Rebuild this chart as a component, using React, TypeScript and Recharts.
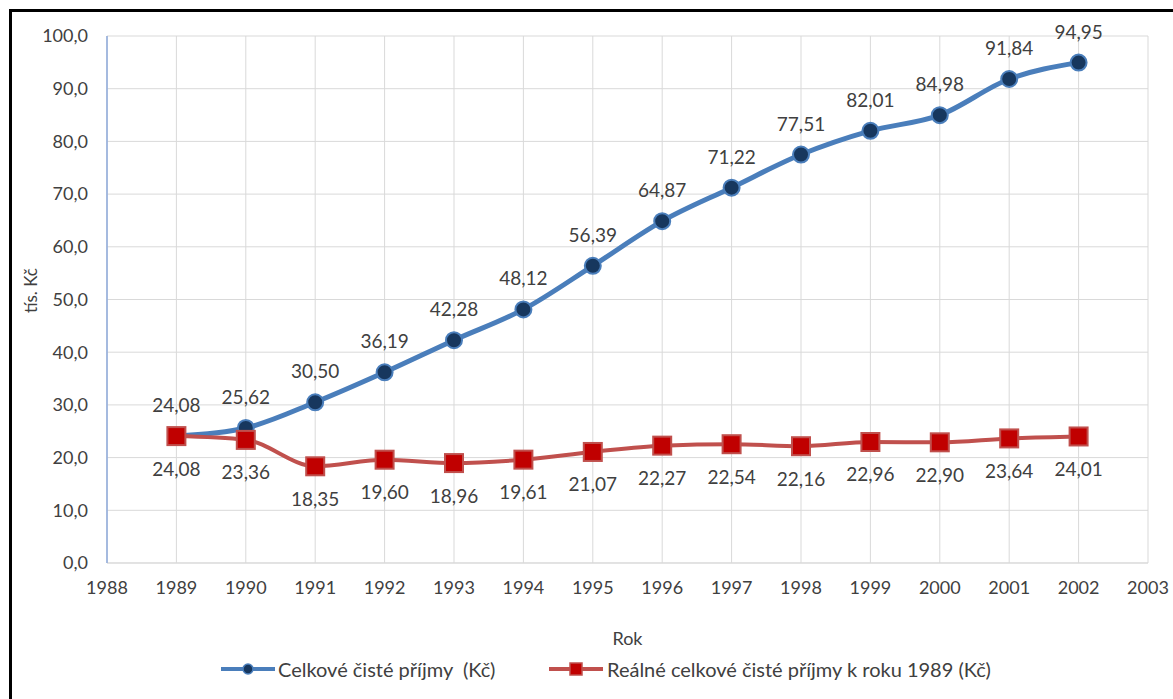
import { LineChart, Line, XAxis, YAxis, CartesianGrid, LabelList } from 'recharts';

const years = [1989, 1990, 1991, 1992, 1993, 1994, 1995, 1996, 1997, 1998, 1999, 2000, 2001, 2002];
const nominal = [24.08, 25.62, 30.5, 36.19, 42.28, 48.12, 56.39, 64.87, 71.22, 77.51, 82.01, 84.98, 91.84, 94.95];
const real = [24.08, 23.36, 18.35, 19.6, 18.96, 19.61, 21.07, 22.27, 22.54, 22.16, 22.96, 22.9, 23.64, 24.01];
const xTicks = [1988, 1989, 1990, 1991, 1992, 1993, 1994, 1995, 1996, 1997, 1998, 1999, 2000, 2001, 2002, 2003];
const yTicks = [0, 10, 20, 30, 40, 50, 60, 70, 80, 90, 100];
const nominalName = 'Celkové čisté příjmy  (Kč)';
const realName = 'Reálné celkové čisté příjmy k roku 1989 (Kč)';

const data = years.map((y, i) => ({ year: y, nominal: nominal[i], real: real[i] }));

const FONT = 'Lato, "Open Sans", sans-serif';
const TEXT = '#404040';
const BLUE = '#4a7ebb';
const NAVY = '#17375e';
const RED_LINE = '#c0504d';
const RED_FILL = '#c00000';

const comma = (v: number, d: number) => v.toFixed(d).replace('.', ',');

function SquareDot(props: any) {
  const { cx, cy } = props;
  if (cx == null || cy == null) return null;
  return <rect x={cx - 9} y={cy - 9} width={18} height={18} fill={RED_FILL} stroke={RED_LINE} strokeWidth={2} />;
}

function LegendIcon({ kind }: { kind: 'circle' | 'square' }) {
  return (
    <svg width={56} height={16} style={{ display: 'block' }}>
      <line x1={1} y1={8} x2={55} y2={8} stroke={kind === 'circle' ? BLUE : RED_LINE} strokeWidth={4} />
      {kind === 'circle'
        ? <circle cx={28} cy={8} r={5} fill={NAVY} stroke={BLUE} strokeWidth={1.5} />
        : <rect x={22} y={2} width={12} height={12} fill={RED_FILL} stroke={RED_LINE} strokeWidth={1.5} />}
    </svg>
  );
}

export default function App() {
  return (
    <div style={{ position: 'absolute', left: 0, top: 0, width: 1173, height: 699, overflow: 'hidden', background: '#fff', fontFamily: FONT }}>
      {/* frame */}
      <div style={{ position: 'absolute', left: 9, top: 9, width: 1200, height: 720, border: '3px solid #000', boxSizing: 'border-box' }} />

      <div style={{ position: 'absolute', left: 0, top: 0 }}>
        <LineChart width={1173} height={699} data={data} margin={{ top: 36, right: 25, left: 0, bottom: 46 }}>
          <CartesianGrid stroke="#d9d9d9" strokeWidth={1} />
          <XAxis
            dataKey="year"
            type="number"
            domain={[1988, 2003]}
            ticks={xTicks}
            height={90}
            axisLine={{ stroke: '#d9d9d9' }}
            tickLine={false}
            tickSize={6}
            tickMargin={12}
            tick={{ fill: TEXT, fontSize: 18, fontFamily: FONT }}
            label={{ value: 'Rok', position: 'insideBottom', offset: 8, fill: TEXT, fontSize: 18, fontFamily: FONT }}
          />
          <YAxis
            type="number"
            domain={[0, 100]}
            ticks={yTicks}
            width={107}
            axisLine={{ stroke: '#8eaadb', strokeWidth: 1.5 }}
            tickLine={false}
            tickSize={6}
            tickMargin={13}
            tickFormatter={(v: number) => comma(v, 1)}
            tick={{ fill: TEXT, fontSize: 18, fontFamily: FONT }}
            label={{
              content: (p: any) => {
                const vb = p.viewBox;
                const x = vb.x + 30;
                const y = vb.y + vb.height / 2 - 9;
                return (
                  <text x={x} y={y} transform={`rotate(-90 ${x} ${y})`} textAnchor="middle" dominantBaseline="central" fill={TEXT} fontSize={17} fontFamily={FONT}>
                    tís. Kč
                  </text>
                );
              },
            }}
          />
          <Line
            type="monotone"
            dataKey="nominal"
            name={nominalName}
            stroke={BLUE}
            strokeWidth={5}
            dot={{ r: 8, fill: NAVY, stroke: BLUE, strokeWidth: 2 }}
            activeDot={false}
            isAnimationActive={false}
          >
            <LabelList dataKey="nominal" position="top" offset={24} formatter={(v: number) => comma(v, 2)} fill={TEXT} fontSize={19} fontFamily={FONT} />
          </Line>
          <Line
            type="monotone"
            dataKey="real"
            name={realName}
            stroke={RED_LINE}
            strokeWidth={4}
            dot={<SquareDot />}
            activeDot={false}
            isAnimationActive={false}
          >
            <LabelList dataKey="real" position="bottom" offset={26} formatter={(v: number) => comma(v, 2)} fill={TEXT} fontSize={19} fontFamily={FONT} />
          </Line>
        </LineChart>
      </div>

      {/* legend */}
      <div style={{ position: 'absolute', left: 220, top: 657, display: 'flex', alignItems: 'center', color: TEXT, fontSize: 20, whiteSpace: 'pre' }}>
        <div style={{ display: 'flex', alignItems: 'center', width: 328 }}>
          <LegendIcon kind="circle" />
          <span style={{ marginLeft: 2 }}>{nominalName}</span>
        </div>
        <div style={{ display: 'flex', alignItems: 'center' }}>
          <LegendIcon kind="square" />
          <span style={{ marginLeft: 3 }}>{realName}</span>
        </div>
      </div>
    </div>
  );
}
